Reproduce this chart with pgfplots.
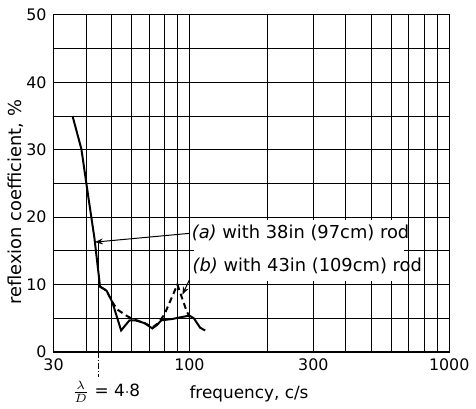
\documentclass[border=0pt]{standalone}
\usepackage{fontspec}
\setmainfont{DejaVu Sans}
\usepackage{pgfplots}
\pgfplotsset{compat=1.18}
\usetikzlibrary{arrows.meta}
\begin{document}
\begin{tikzpicture}
\begin{axis}[name=ax, at={(0,0)}, anchor=south west, scale only axis,
  width=199.5pt, height=170pt,
  xmode=log, xmin=30, xmax=1000, ymin=0, ymax=50,
  xtick={30,40,50,60,70,80,90,100,200,300,400,500,600,700,800,900,1000},
  xticklabels={30,,,,,,,100,,300,,,,,,,1000},
  ytick={0,5,...,50}, yticklabels={0,,10,,20,,30,,40,,50},
  major tick length=0pt, grid=major, grid style={black, line width=0.5pt},
  axis line style={black, line width=0.6pt},
  tick label style={font=\fontsize{8}{9}\selectfont},
  ylabel={reflexion coefficient, \%},
  ylabel style={at={(rel axis cs:-0.095,0.444)}, anchor=center, font=\fontsize{9}{10}\selectfont},
  xlabel={frequency, c/s},
  xlabel style={at={(rel axis cs:0.494,-0.124)}, anchor=center, font=\fontsize{8.5}{10}\selectfont},
  clip=false]
\fill[white] (axis cs:104,10.6) rectangle (axis cs:672,19.6);
\draw[line width=0.9pt] (axis cs:30,10) -- (axis cs:1000,10);
% (a) 38in rod
\addplot[black, line width=1pt] coordinates {(35.5,35) (38.4,30.1) (40.9,22.8) (43.1,16.9) (45.3,9.7) (48,9.1) (50.5,7.4) (54.6,3.2) (58.8,4.7) (62,4.7) (67,4.3) (72,3.5) (75,4.0) (78,4.7) (86,4.9) (91,5.1) (100,5.4) (104,5.0) (107,4.3) (110,3.6) (115,3.2)};
% (b) 43in rod
\addplot[black, line width=1pt, dash pattern=on 3pt off 2pt] coordinates {(45.3,9.7) (48,9.1) (50.5,7.4) (52.8,6.3) (57.2,5.4) (60.3,4.9) (66.3,4.4) (69.6,4.0) (72.3,3.7) (76,4.3) (80.2,5.6) (89.9,10) (97.3,6.2) (100,5.2)};
\draw[-{Stealth[length=4pt,width=3pt]}, line width=0.5pt] (axis cs:100,17.6) -- (axis cs:43.3,16.3);
\draw[-{Stealth[length=4pt,width=3pt]}, line width=0.5pt] (axis cs:100,10.7) -- (axis cs:94,8.5);
\draw[line width=0.5pt] (axis cs:44.7,16.3) -- (axis cs:44.7,0);
\draw[line width=0.5pt, densely dashdotted] (axis cs:44.7,0) -- (axis cs:44.7,-3.7);
\node[anchor=west, inner sep=0pt, font=\fontsize{9}{10}\selectfont] at (axis cs:101.8,17.6) {\textit{(a)} with 38in (97cm) rod};
\node[anchor=west, inner sep=0pt, font=\fontsize{9}{10}\selectfont] at (axis cs:102.6,12.8) {\textit{(b)} with 43in (109cm) rod};
\node[font=\fontsize{8.5}{10}\selectfont] at (rel axis cs:0.133,-0.118) {$\frac{\lambda}{D}$ = 4$\cdot$8};
\end{axis}
\path (ax.south west) ++(-27pt,-28pt) rectangle ++(238pt,205.5pt);
\end{tikzpicture}
\end{document}
